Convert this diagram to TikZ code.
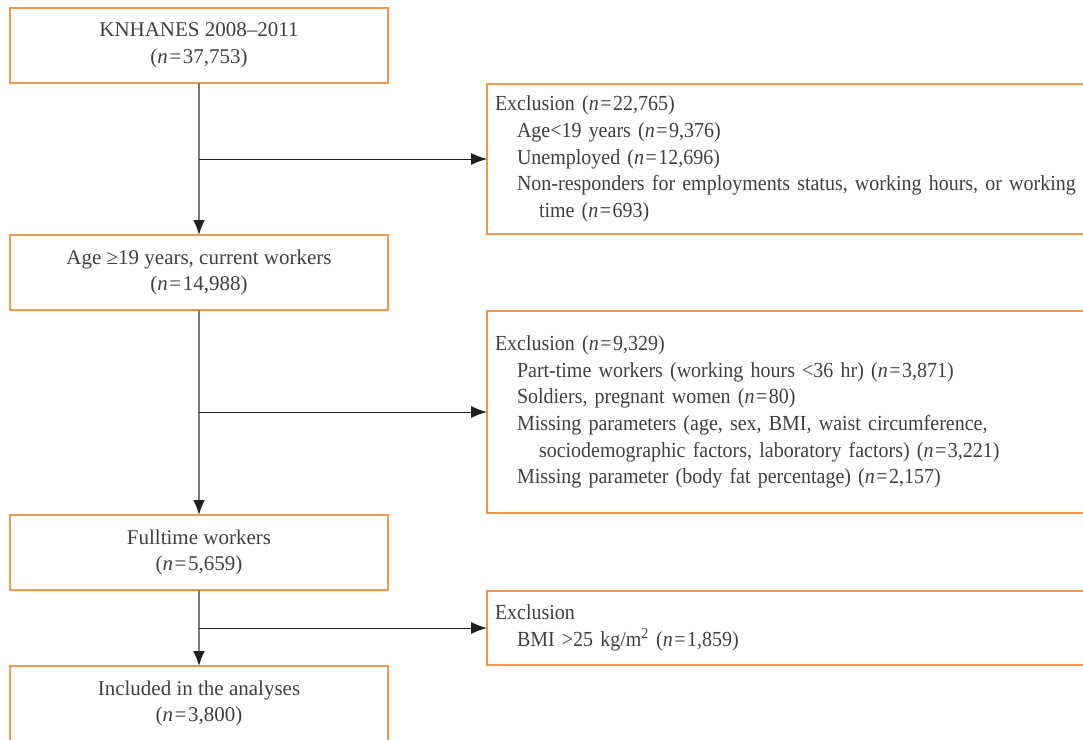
\documentclass[tikz,border=0pt]{standalone}
\usepackage{fontspec}
\setmainfont{Liberation Serif}
\newfontfamily\exclserif{Liberation Serif}[FakeStretch=0.93,WordSpace=0.85]
\usetikzlibrary{arrows.meta,positioning}
\definecolor{FlowOrange}{HTML}{F7964A}
\definecolor{FlowText}{HTML}{3F3F3F}
\definecolor{FlowStem}{HTML}{7A7A7A}
\definecolor{FlowArrow}{HTML}{231F20}
\newcommand{\fcfont}{\fontsize{21}{26.7}\selectfont}
\newcommand{\exfont}{\exclserif\fontsize{21.5}{26.7}\selectfont}
\newcommand{\nn}[1]{(\textit{n}\hspace{1.5pt}=\hspace{1.5pt}#1)}
\newcommand{\ind}{\hspace*{22pt}}
\tikzset{
  fcbox/.style={
    draw=FlowOrange,
    line width=1.3pt,
    text=FlowText,
    align=center,
    minimum width=378pt,
    minimum height=75pt,
    outer sep=0pt,
    font=\fcfont
  },
  fcexcl/.style={
    draw=FlowOrange,
    line width=1.3pt,
    text=FlowText,
    align=left,
    anchor=west,
    text width=640pt,
    inner xsep=8pt,
    outer sep=0pt,
    font=\exfont
  },
  fcstem/.style={-{Latex[length=15pt,width=12pt,color=FlowArrow]}, line width=1.8pt, draw=FlowStem},
  fcbranch/.style={-{Latex[length=16pt,width=12pt]}, line width=1pt, draw=FlowArrow}
}
\begin{document}
\begin{tikzpicture}[x=1pt,y=-1pt]
  \useasboundingbox (0,0) rectangle (1083,739);
  \clip (0,0) rectangle (1083,739);
  \node[fcbox] (knhanes) at (199,45.5) {KNHANES 2008--2011\\\nn{37,753}};
  \node[fcbox, below=152pt of knhanes] (adults) {Age ≥19 years, current workers\\\nn{14,988}};
  \node[fcbox, below=205pt of adults] (fulltime) {Fulltime workers\\\nn{5,659}};
  \node[fcbox, below=76pt of fulltime] (included) {Included in the analyses\\\nn{3,800}};
  % exclusion boxes, cut by the right edge
  \node[fcexcl, minimum height=150pt] (exage) at (487,159) {Exclusion \nn{22,765}\\
    \ind Age<19 years \nn{9,376}\\
    \ind Unemployed \nn{12,696}\\
    \ind Non-responders for employments status, working hours, or working\\
    \ind\ind time \nn{693}};
  \node[fcexcl, minimum height=202pt] (exhours) at (487,412) {Exclusion \nn{9,329}\\
    \ind Part-time workers (working hours <36 hr) \nn{3,871}\\
    \ind Soldiers, pregnant women \nn{80}\\
    \ind Missing parameters (age, sex, BMI, waist circumference,\\
    \ind\ind sociodemographic factors, laboratory factors) \nn{3,221}\\
    \ind Missing parameter (body fat percentage) \nn{2,157}};
  \node[fcexcl, minimum height=74pt] (exbmi) at (487,628) {Exclusion\\
    \ind BMI >25 kg/m\textsuperscript{2} \nn{1,859}};
  \draw[fcstem] (knhanes) -- (adults);
  \draw[fcstem] (adults) -- (fulltime);
  \draw[fcstem] (fulltime) -- (included);
  \draw[fcbranch] (knhanes.south |- exage.west) -- (exage.west);
  \draw[fcbranch] (adults.south |- exhours.west) -- (exhours.west);
  \draw[fcbranch] (fulltime.south |- exbmi.west) -- (exbmi.west);
\end{tikzpicture}
\end{document}
